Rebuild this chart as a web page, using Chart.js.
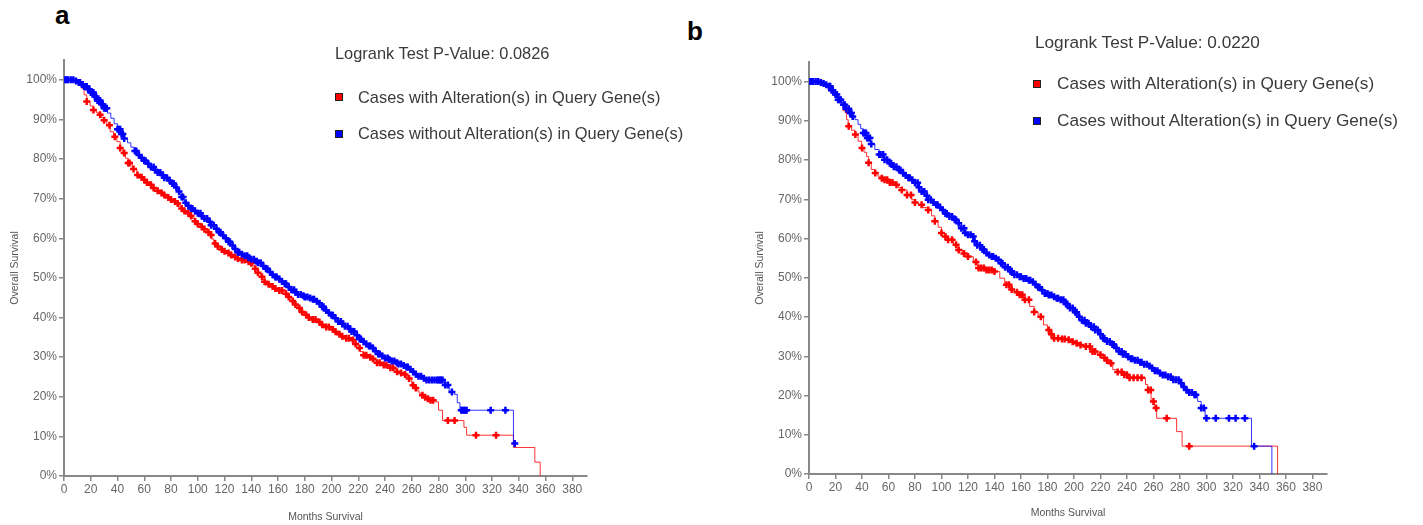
<!DOCTYPE html>
<html>
<head>
<meta charset="utf-8">
<script src="https://cdn.jsdelivr.net/npm/chart.js@4.4.1/dist/chart.umd.min.js"></script>
<style>
  body { margin: 0; background: #fff; width: 1423px; height: 525px; overflow: hidden; position: relative;
         font-family: "Liberation Sans", Arial, sans-serif; }
  .panel { position: absolute; top: 0; height: 525px; }
  .panel canvas { position: absolute; top: 0; left: 0; }
  .tag { position: absolute; font-weight: bold; font-size: 26px; line-height: 26px; color: #000; }
  .txt { position: absolute; white-space: nowrap; color: #3a3a3a; line-height: 20px; }
  .sw { position: absolute; width: 6px; height: 6px; border: 1px solid #222; }
</style>
</head>
<body>

<div class="tag" style="left:55px; top:2px;">a</div>
<div class="tag" style="left:687px; top:18px;">b</div>

<div class="panel" style="left:0; width:711px;"><canvas id="chartA" width="711" height="525"></canvas></div>
<div class="panel" style="left:711px; width:712px;"><canvas id="chartB" width="712" height="525"></canvas></div>

<div class="txt" id="pA" style="left:335px; top:43px; font-size:16.4px;"></div>
<div class="sw" style="left:335px; top:93px; background:#ff0000;"></div>
<div class="txt" id="lA1" style="left:358px; top:87px; font-size:16.4px;"></div>
<div class="sw" style="left:335px; top:130px; background:#0000ff;"></div>
<div class="txt" id="lA2" style="left:358px; top:123px; font-size:16.4px;"></div>

<div class="txt" id="pB" style="left:1035px; top:32px; font-size:17.2px;"></div>
<div class="sw" style="left:1033px; top:80px; background:#ff0000;"></div>
<div class="txt" id="lB1" style="left:1057px; top:73px; font-size:17.2px;"></div>
<div class="sw" style="left:1033px; top:117px; background:#0000ff;"></div>
<div class="txt" id="lB2" style="left:1057px; top:110px; font-size:17.2px;"></div>

<script>
// Axis ticks shared by both panels
const monthTicks = [0, 20, 40, 60, 80, 100, 120, 140, 160, 180, 200, 220, 240, 260, 280, 300, 320, 340, 360, 380]
const survivalTicks = [0, 10, 20, 30, 40, 50, 60, 70, 80, 90, 100]

const seriesNames = ["Cases with Alteration(s) in Query Gene(s)", "Cases without Alteration(s) in Query Gene(s)"]
const pValues = ["0.0826", "0.0220"]

// Panel a: Kaplan-Meier steps (months, survival %) and censored months
const aAltMonths = [0, 5, 10, 13, 15, 17, 19.5, 22, 24, 26, 28, 30, 32, 34.5, 37, 39.5, 42, 44, 46, 48, 51, 54.5, 57, 60,
  62, 64, 67, 70, 72, 74, 77, 80, 82, 84, 86, 88, 90, 92, 94, 96, 98, 100, 102.5, 105, 107, 109, 110.5, 112, 114.5, 117,
  119.5, 122, 124.5, 127, 130, 133, 136, 139, 141, 143, 145, 147, 148.5, 150, 152, 154, 157, 160, 163.5, 167, 169.5, 172,
  174.5, 177, 180, 183, 186, 189, 192, 195, 198.5, 202, 205, 208, 211, 214, 216.5, 219, 221.5, 224, 227, 230, 232, 234,
  236.5, 239, 241.5, 244, 246.5, 249, 251.5, 254, 256, 258, 260, 262, 264, 265.5, 267, 269, 271, 274, 278, 280, 283, 299,
  301, 336, 352, 356]
const aAltSurv = [100, 100, 99, 97.9, 96.2, 94.5, 93.4, 92.4, 91.8, 91.2, 90.5, 89.8, 88.5, 86.9, 85.6, 84.4, 82.8, 81.5,
  80.2, 79, 77.5, 76, 75.4, 74.8, 74.1, 73.5, 72.7, 72, 71.4, 70.9, 70.3, 69.8, 69.3, 68.8, 68.1, 67.5, 66.9, 66.3, 65.6,
  65, 64.3, 63.6, 62.9, 62.3, 61.5, 60.8, 59.8, 58.7, 57.9, 57.2, 56.7, 56.3, 55.8, 55.3, 54.9, 54.5, 54.1, 53.7, 53,
  52.3, 51.3, 50.3, 49.6, 49, 48.4, 47.8, 47.3, 46.8, 46, 45.2, 44.2, 43.3, 42.4, 41.4, 40.7, 40, 39.5, 38.9, 38.2,
  37.6, 37, 36.4, 35.8, 35.3, 34.8, 34.3, 33.3, 32.3, 31.4, 30.5, 30, 29.6, 29.1, 28.6, 28.3, 28, 27.6, 27.3, 26.8, 26.3,
  26, 25.6, 25.1, 24.6, 22.9, 22.2, 21.5, 20.9, 20.4, 19.9, 19.5, 19.1, 18.7, 16.6, 14, 12.3, 10.3, 7.2, 3.5, 0]
const aAltCensor = [17, 22, 27, 30, 34, 38, 42, 45, 48, 49, 52, 55, 58, 60, 62, 65, 67, 70, 73, 75, 78, 80, 83, 85, 88, 90,
  93, 95, 98, 100, 103, 105, 108, 110, 113, 115, 118, 120, 123, 125, 128, 130, 133, 135, 138, 140, 143, 145, 148, 150,
  153, 156, 158, 161, 163, 166, 168, 171, 173, 176, 178, 181, 183, 186, 188, 191, 193, 196, 198, 201, 203, 206, 208,
  211, 213, 216, 218, 221, 224, 226, 229, 231, 234, 236, 239, 241, 244, 246, 249, 252, 255, 258, 261, 263, 268, 270,
  272, 274, 276, 287, 292, 308, 323]

const aNoAltMonths = [0, 2.5, 5, 7.5, 10, 12.5, 15, 17.5, 20, 22.5, 25, 27.5, 30, 32.5, 35, 37.5, 40, 42.5, 45, 47.5, 50,
  52.5, 55, 57.5, 60, 62.5, 65, 67.5, 70, 72.5, 75, 77.5, 80, 82.5, 85, 87.5, 90, 92.5, 95, 97.5, 100, 102.5, 105, 107.5,
  110, 112.5, 115, 117.5, 120, 122.5, 125, 127.5, 130, 132.5, 135, 137.5, 140, 142.5, 145, 147.5, 150, 152.5, 155, 157.5,
  160, 162.5, 165, 167.5, 170, 172.5, 175, 177.5, 180, 182.5, 185, 187.5, 190, 192.5, 195, 197.5, 200, 202.5, 205, 207.5,
  210, 212.5, 215, 217.5, 220, 222.5, 225, 227.5, 230, 232.5, 235, 237.5, 240, 242.5, 245, 247.5, 250, 252.5, 255, 257.5,
  260, 262.5, 265, 267.5, 270, 285, 288, 292, 294, 296, 336, 337.5]
const aNoAltSurv = [100, 100, 100, 99.7, 99.3, 98.8, 98.3, 97.6, 96.8, 95.8, 94.8, 93.8, 92.8, 91.6, 90.3, 88.9, 87.5, 86.3,
  85.2, 84.1, 83, 82, 81, 80.3, 79.6, 78.8, 78, 77.3, 76.6, 75.9, 75.3, 74.6, 73.8, 72.8, 71.8, 70.4, 69, 68.2, 67.5, 66.9,
  66.3, 65.6, 65, 64.2, 63.3, 62.4, 61.5, 60.7, 60, 59.1, 58.2, 57.3, 56.5, 56, 55.6, 55.1, 54.7, 54.2, 53.8, 53, 52.3,
  51.5, 50.8, 50.2, 49.7, 49.1, 48.5, 47.7, 47, 46.4, 45.8, 45.5, 45.2, 44.9, 44.6, 44.1, 43.6, 42.7, 41.8, 41.2, 40.6,
  39.8, 39, 38.4, 37.8, 37.1, 36.5, 35.5, 34.6, 33.9, 33.3, 32.8, 32.3, 31.5, 30.8, 30.3, 29.8, 29.4, 29, 28.6, 28.3,
  27.9, 27.5, 26.9, 26.3, 25.7, 25.2, 24.7, 24.2, 23, 21.2, 20.6, 18.5, 16.6, 8.2, 8.2]
const aNoAltCensor = [1, 2, 3, 5, 7, 9, 11, 12, 14, 15, 16, 17, 18, 19, 20, 21, 22, 23, 24, 25, 26, 27, 28, 29, 30, 31, 32,
  40, 41, 42, 43, 44, 45, 53, 54, 56, 58, 60, 61, 63, 65, 67, 68, 70, 72, 74, 75, 77, 79, 81, 82, 84, 86, 88, 89, 91,
  93, 95, 96, 98, 100, 102, 103, 105, 107, 109, 110, 112, 114, 116, 117, 119, 121, 123, 124, 126, 128, 130, 131, 133,
  135, 137, 138, 140, 142, 144, 145, 147, 149, 151, 152, 154, 156, 158, 159, 161, 163, 165, 166, 168, 170, 172, 173,
  175, 177, 179, 180, 182, 184, 186, 187, 189, 191, 193, 194, 196, 198, 200, 201, 203, 205, 207, 208, 210, 212, 214,
  215, 217, 219, 221, 222, 224, 226, 228, 229, 231, 233, 235, 236, 238, 240, 242, 243, 245, 247, 249, 250, 252, 254,
  256, 257, 259, 261, 263, 265, 267, 269, 271, 273, 275, 277, 279, 280, 281, 282, 283, 285, 287, 290, 297, 298, 299,
  300, 301, 319, 330, 337]

// Panel b
const bAltMonths = [0, 6, 10, 12, 14.5, 18, 20, 22, 24.5, 27, 28.4, 29.6, 32, 34.7, 37, 39.7, 41.5, 43.5, 45, 47, 49.5, 52,
  54.5, 57, 61, 65, 67.5, 70, 74, 77.5, 80, 82.5, 86, 90, 92.5, 95, 97.5, 100, 102.5, 105, 109, 112.5, 116, 120, 124,
  127.5, 133, 140, 144, 147.7, 152, 155, 157.7, 162, 166.5, 170, 173, 177, 180, 182.5, 185, 190, 195, 198, 201, 204.5,
  208, 213, 218, 222, 225, 228, 229.3, 233, 236.8, 241.9, 254, 255.7, 258.2, 260.7, 262.4, 277.5, 281.6, 353.7]
const bAltSurv = [100, 100, 99.5, 98.8, 98, 96.8, 96.1, 95.4, 94.2, 92.9, 90.3, 88.6, 87.6, 86.5, 84.8, 83.1, 82, 80.9,
  79.3, 77.6, 76.7, 75.9, 75.4, 75, 74.3, 73.7, 73, 72.4, 71.1, 69.9, 69.2, 68.6, 67.9, 67.3, 65.8, 64.4, 62.9, 61.4,
  60.5, 59.7, 58.4, 57.1, 56.2, 55.4, 54, 52.5, 52, 51.6, 49.9, 48.2, 47, 46.3, 45.7, 44.4, 42.7, 41.3, 40.1, 38, 36.7,
  35.6, 34.6, 34.4, 34.2, 33.7, 33.3, 32.9, 32.5, 31.2, 30.4, 29.6, 28.9, 28.2, 26.6, 26, 25.3, 24.5, 22.8, 21.4, 18.5,
  16.8, 14.2, 10.8, 7.1, 0]
const bAltCensor = [28, 30, 35, 40, 45, 50, 55, 57, 59, 61, 63, 66, 70, 74, 77, 80, 85, 90, 95, 100, 103, 105, 108, 111,
  113, 117, 120, 126, 128, 130, 132, 134, 136, 138, 140, 149, 151, 153, 157, 159, 161, 163, 166, 170, 175, 181, 183,
  185, 188, 191, 193, 196, 199, 202, 205, 209, 212, 214, 216, 220, 223, 225, 228, 233, 236, 238, 240, 242, 245, 248,
  251, 256, 258, 260, 262, 270, 287]

const bNoAltMonths = [0, 5, 7.5, 10, 12, 14, 17, 19.6, 22, 24.6, 27.5, 31, 33, 34.7, 37, 39, 41, 43.5, 46.5, 49.7, 53, 57,
  60, 63, 66.5, 70, 72.5, 75, 77.5, 80, 82.5, 85, 87.5, 90, 92.5, 95, 97.5, 100, 103, 106, 109, 112.5, 115, 117.6, 120,
  122.6, 125, 127, 130, 132.6, 135, 137, 140, 142.6, 145, 148, 151.5, 155, 158.5, 162, 165, 168, 170.5, 173, 175.5, 178,
  181, 184, 187, 190, 193, 196, 199.5, 203, 206, 209, 212, 215.5, 219, 222, 225, 228, 231, 234, 237, 240, 243, 246, 249.5,
  253, 255.5, 258, 261, 264.5, 267, 270, 274.5, 279.6, 282, 284.6, 287, 289.6, 293.4, 296, 299, 334, 349.4]
const bNoAltSurv = [100, 100, 99.8, 99.5, 99.2, 98.8, 97.8, 96.7, 95.4, 94.1, 93.1, 92, 91.1, 90.3, 89.1, 88, 86.9, 85.6,
  84.1, 82.7, 81.4, 80.1, 79.2, 78.3, 77.5, 76.7, 76.1, 75.5, 74.9, 74.2, 73.1, 72, 70.9, 69.9, 69.2, 68.6, 67.9, 67.3,
  66.4, 65.6, 64.8, 63.9, 62.6, 61.4, 61, 60.5, 59.3, 58.3, 57.2, 56.3, 55.8, 55.4, 55, 54.6, 53.7, 52.7, 51.7, 50.8,
  50.3, 49.8, 49.4, 49, 48.3, 47.6, 46.8, 46, 45.6, 45.2, 44.8, 44.4, 43.3, 42.3, 41.2, 40.1, 39.2, 38.4, 37.5, 36.7,
  35.6, 34.6, 33.8, 33, 32.1, 31.2, 30.5, 29.8, 29.4, 29, 28.5, 28, 27.5, 27, 26.3, 25.7, 25.2, 24.8, 24, 23.1, 22.2,
  21.4, 20.8, 20.2, 18.5, 16.8, 14.2, 7.1, 0]
const bNoAltCensor = [1, 2, 3, 5, 7, 9, 11, 13, 15, 16, 17, 18, 20, 21, 22, 23, 24, 26, 27, 28, 30, 31, 32, 33, 41, 42,
  43, 44, 45, 46, 47, 53, 54, 56, 57, 59, 61, 62, 64, 66, 68, 69, 71, 73, 75, 76, 78, 80, 82, 83, 85, 87, 89, 90, 92,
  94, 96, 97, 99, 101, 103, 104, 106, 108, 110, 111, 113, 115, 117, 118, 120, 122, 124, 125, 127, 129, 131, 132, 134,
  136, 138, 139, 141, 143, 145, 146, 148, 150, 152, 153, 155, 157, 159, 160, 162, 164, 166, 167, 169, 171, 173, 174,
  176, 178, 180, 181, 183, 185, 187, 188, 190, 192, 194, 195, 197, 199, 201, 202, 204, 206, 208, 209, 211, 213, 215,
  216, 218, 220, 222, 223, 225, 227, 229, 230, 232, 234, 236, 237, 239, 241, 243, 244, 246, 248, 250, 251, 253, 255,
  257, 259, 261, 263, 265, 267, 269, 271, 273, 275, 277, 279, 281, 283, 285, 287, 289, 291, 292, 296, 298, 300, 307,
  317, 322, 329, 336]

const RED = "#ff0000"
const BLUE = "#0000ff"
const TICK_FONT = { family: "'Liberation Sans', Arial, sans-serif", size: 12 }
const TITLE_FONT = { family: "'Liberation Sans', Arial, sans-serif", size: 10.5 }

// survival value of a step curve at month t (places a censor mark on its curve)
function survAt(months, surv, t) {
  let s = surv[0]
  for (let i = 0; i < months.length; i++) {
    if (months[i] <= t) s = surv[i]
    else break
  }
  return s
}

function toPoints(months, surv) {
  return months.map((m, i) => ({ x: m, y: surv[i] }))
}

function censorPoints(censor, months, surv) {
  return censor.map((c) => ({ x: c, y: survAt(months, surv, c) }))
}

function makePanel(id, p) {
  const ctx = document.getElementById(id).getContext("2d")
  return new Chart(ctx, {
    type: "line",
    data: {
      datasets: [
        { data: censorPoints(p.noCensor, p.noMonths, p.noSurv), showLine: false, pointStyle: "cross",
          pointRadius: 3.5, pointBorderWidth: 2.5, borderColor: BLUE, backgroundColor: BLUE },
        { data: toPoints(p.noMonths, p.noSurv), stepped: true, borderColor: "rgba(0,0,255,0.8)", borderWidth: 1,
          pointRadius: 0, fill: false },
        { data: censorPoints(p.altCensor, p.altMonths, p.altSurv), showLine: false, pointStyle: "cross",
          pointRadius: 3.5, pointBorderWidth: 2.5, borderColor: RED, backgroundColor: RED },
        { data: toPoints(p.altMonths, p.altSurv), stepped: true, borderColor: "rgba(255,0,0,0.8)", borderWidth: 1,
          pointRadius: 0, fill: false },
      ],
    },
    options: {
      responsive: false,
      animation: false,
      layout: { padding: p.padding },
      plugins: { legend: { display: false }, tooltip: { enabled: false } },
      scales: {
        x: {
          type: "linear",
          min: 0,
          max: 391,
          afterBuildTicks: (s) => { s.ticks = monthTicks.map((v) => ({ value: v })) },
          afterFit: (s) => { s.height = p.xHeight },
          grid: { drawOnChartArea: false, drawTicks: true, tickLength: 5, color: "#888", lineWidth: 1.5 },
          border: { display: true, color: "#888", width: 2 },
          ticks: { font: TICK_FONT, color: "#666", padding: 1, maxRotation: 0, autoSkip: false },
          title: { display: true, text: "Months Survival", font: TITLE_FONT, color: "#555",
                   padding: { top: 0, bottom: p.xTitlePad } },
        },
        y: {
          type: "linear",
          min: 0,
          max: 105,
          afterBuildTicks: (s) => { s.ticks = survivalTicks.map((v) => ({ value: v })) },
          afterFit: (s) => { s.width = p.yWidth },
          grid: { drawOnChartArea: false, drawTicks: true, tickLength: 5, color: "#888", lineWidth: 1.5 },
          border: { display: true, color: "#888", width: 2 },
          ticks: { font: TICK_FONT, color: "#666", padding: 2, callback: (v) => v + "%" },
          title: { display: true, text: "Overall Survival", font: TITLE_FONT, color: "#555",
                   padding: { top: 9, bottom: 0 } },
        },
      },
    },
  })
}

makePanel("chartA", {
  altMonths: aAltMonths, altSurv: aAltSurv, altCensor: aAltCensor,
  noMonths: aNoAltMonths, noSurv: aNoAltSurv, noCensor: aNoAltCensor,
  padding: { left: 0, top: 60, right: 124, bottom: 0 },
  yWidth: 64, xHeight: 49, xTitlePad: 2,
})

makePanel("chartB", {
  altMonths: bAltMonths, altSurv: bAltSurv, altCensor: bAltCensor,
  noMonths: bNoAltMonths, noSurv: bNoAltSurv, noCensor: bNoAltCensor,
  padding: { left: 34, top: 62, right: 96, bottom: 0 },
  yWidth: 64, xHeight: 51, xTitlePad: 6,
})

// Legend and p-value texts
document.getElementById("pA").textContent = "Logrank Test P-Value: " + pValues[0]
document.getElementById("lA1").textContent = seriesNames[0]
document.getElementById("lA2").textContent = seriesNames[1]
document.getElementById("pB").textContent = "Logrank Test P-Value: " + pValues[1]
document.getElementById("lB1").textContent = seriesNames[0]
document.getElementById("lB2").textContent = seriesNames[1]
</script>
</body>
</html>
